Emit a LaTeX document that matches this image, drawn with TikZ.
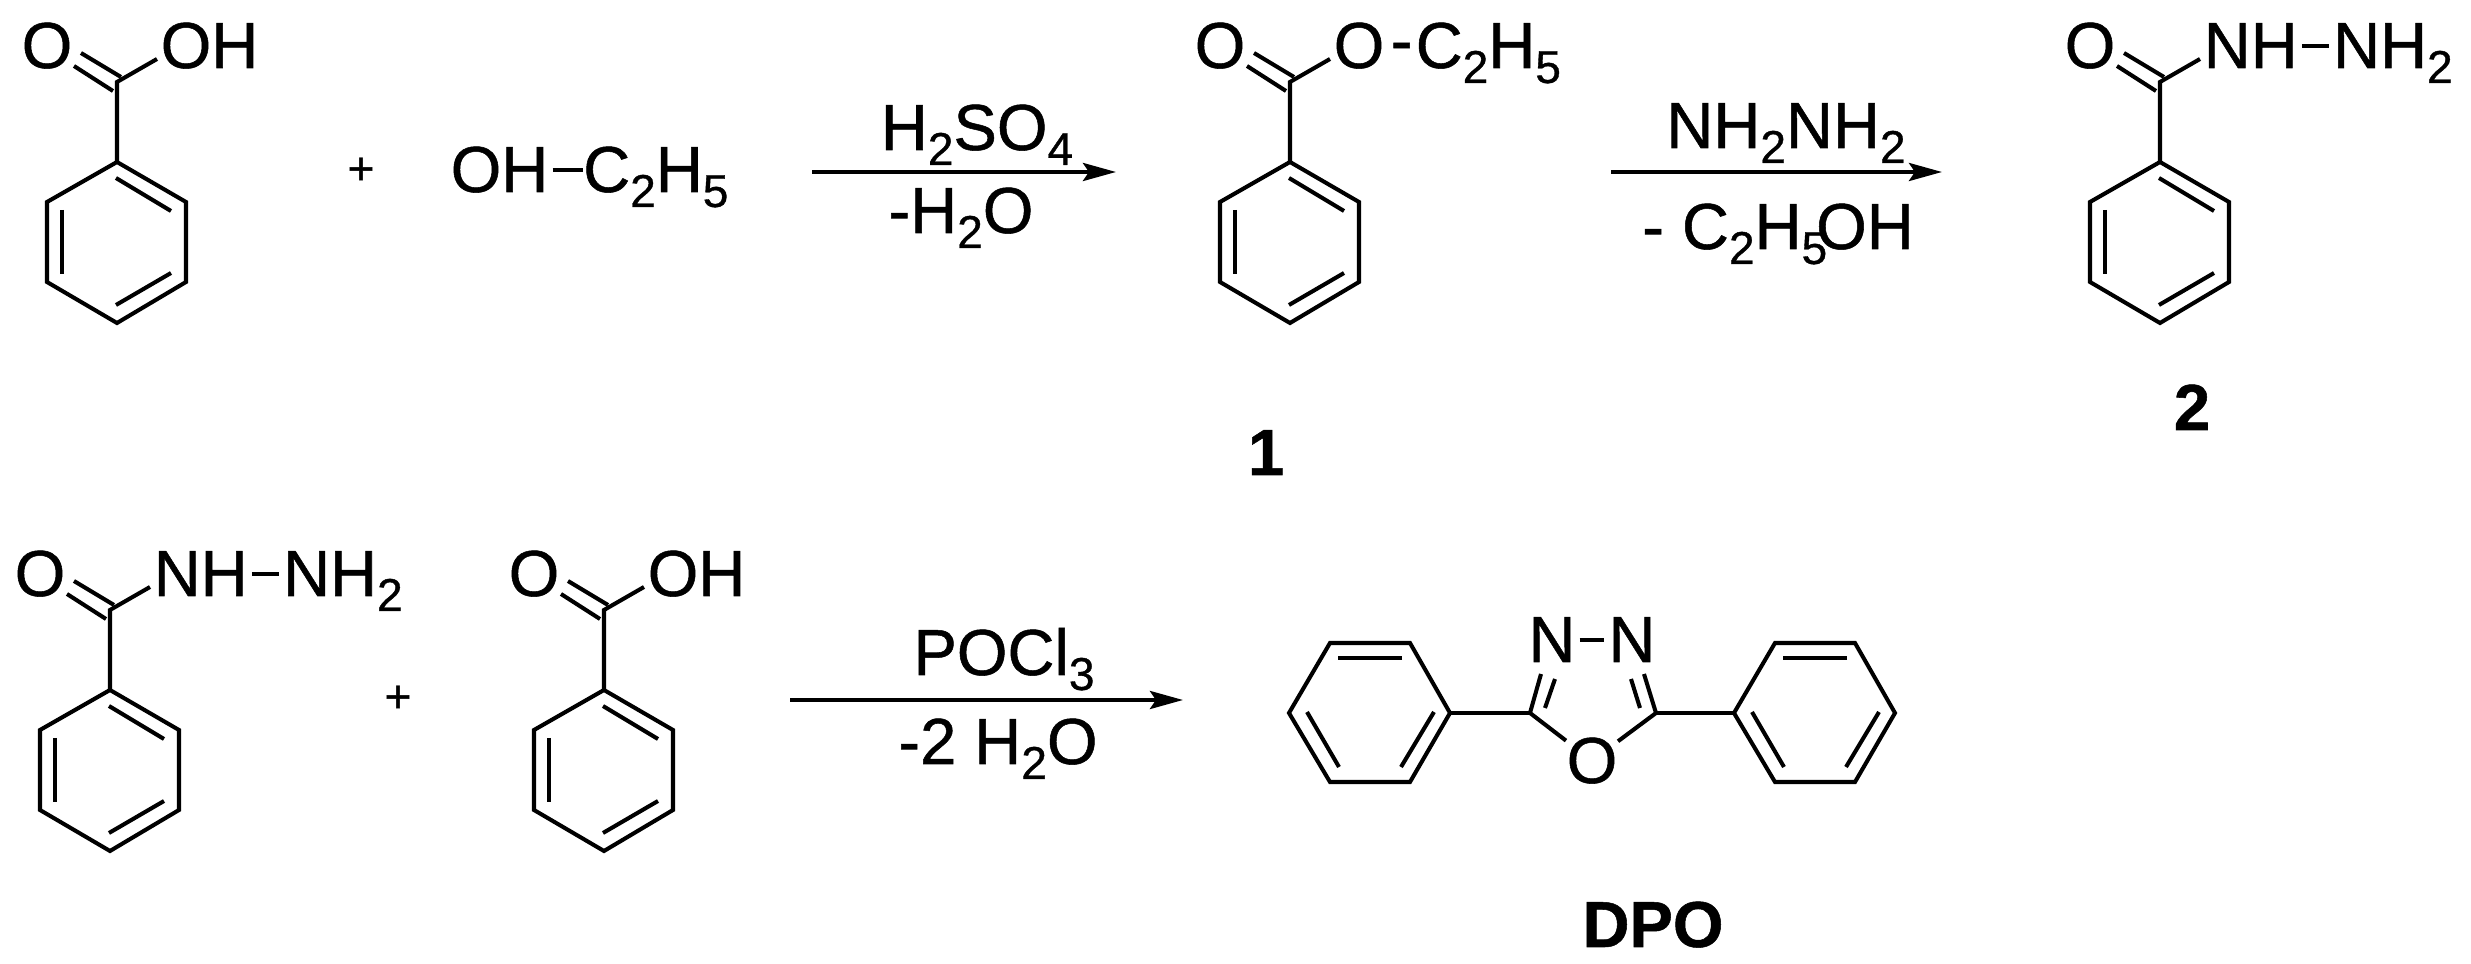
\documentclass[tikz,border=0pt]{standalone}
\usepackage{fontspec}
\setmainfont{Liberation Sans}[FakeBold=0.8]
\usetikzlibrary{arrows.meta, positioning}

\newcommand{\ssub}[1]{\raisebox{-0.23em}{\fontsize{13.1}{14}\selectfont #1}}

\tikzset{
	bond/.style={line width=1.15pt},
	rxn/.style={line width=1.15pt, -{Stealth[length=0.33cm, width=0.18cm, inset=0.06cm]}},
	chem/.style={font=\fontsize{18.5}{20}\selectfont, inner sep=0pt},
	tag/.style={font=\fontsize{18.5}{20}\selectfont\bfseries, inner sep=0pt, anchor=base},
	plus/.style={font=\fontsize{13.1}{14}\selectfont, inner sep=0pt},
	pics/phenyl/.style={code={
		\draw[bond] (0,0) -- (69,40) -- (69,120) -- (0,161) -- (-70,120) -- (-70,40) -- cycle;
		\draw[bond] (-1,16) -- (54,49);
		\draw[bond] (-55,48) -- (-55,112);
		\draw[bond] (-1,143) -- (54,111);
	}},
	pics/benzoyl/.style={code={
		\pic {phenyl};
		\coordinate (-c) at (0,-80);
		\coordinate (-tail) at (43,-94);
		\node[chem, anchor=base] (-o) at (-70,-94) {O};
		\draw[bond] (0,0) -- (-c) -- (40,-103);
		\draw[bond] (-4,-71) -- (-43,-96);
		\draw[bond] (4,-85) -- (-36,-109);
	}}
}

\begin{document}
\begin{tikzpicture}[x=0.01cm, y=-0.01cm]

	\useasboundingbox (0,0) rectangle (2471,964);

	\pic (a) at (117,162) {benzoyl};
	\node[chem, anchor=base west] (a-oh) at (a-tail) {OH};
	\node[plus] (plus1) at (361,171) {+};
	\node[chem, anchor=base west] (eth-oh) at (450,192) {OH};
	\node[chem, base right=0.335cm of eth-oh] (eth-r) {C\ssub{2}H\ssub{5}};
	\draw[bond, shorten <=1pt] (eth-oh.east) -- (eth-oh.east -| eth-r.west);

	\coordinate (r1s) at (812,172);
	\coordinate (r1e) at (1116,172);
	\draw[rxn] (r1s) -- (r1e);
	\node[chem, anchor=base] (r1top) at (977,150) {H\ssub{2}SO\ssub{4}};
	\node[chem, anchor=base] (r1low) at (961,233) {-H\ssub{2}O};

	\pic (b) at (1290,162) {benzoyl};
	\node[chem, anchor=base west] (b-r) at (b-tail) {O\kern0.1em\raisebox{0.08em}{-}\kern0.05em C\ssub{2}H\ssub{5}};
	\node[tag] (one) at (1266,475) {1};

	\coordinate (r2s) at (1611,172);
	\coordinate (r2e) at (1942,172);
	\draw[rxn] (r2s) -- (r2e);
	\node[chem, anchor=base] (r2top) at (1786,148) {NH\ssub{2}NH\ssub{2}};
	\node[chem, anchor=base] (r2low) at (1778,249) {- C\ssub{2}H\ssub{5}\kern-0.17em OH};

	\pic (c) at (2160,162) {benzoyl};
	\node[chem, anchor=base west] (c-nh) at (c-tail) {NH};
	\node[chem, base right=0.34cm of c-nh] (c-nh2) {NH\ssub{2}};
	\draw[bond, shorten <=1pt, shorten >=1pt] (c-nh.east) -- (c-nh.east -| c-nh2.west);
	\node[tag] (two) at (2192,430) {2};

	\pic (d) at (110,690) {benzoyl};
	\node[chem, anchor=base west] (d-nh) at (d-tail) {NH};
	\node[chem, base right=0.34cm of d-nh] (d-nh2) {NH\ssub{2}};
	\draw[bond, shorten <=1pt, shorten >=1pt] (d-nh.east) -- (d-nh.east -| d-nh2.west);
	\node[plus] (plus2) at (398,699) {+};

	\pic (e) at (604,690) {benzoyl};
	\node[chem, anchor=base west] (e-oh) at (e-tail) {OH};

	\coordinate (r3s) at (790,700);
	\coordinate (r3e) at (1183,700);
	\draw[rxn] (r3s) -- (r3e);
	\node[chem, anchor=base] (r3top) at (1004,675) {POCl\ssub{3}};
	\node[chem, anchor=base] (r3low) at (998,764) {-2 H\ssub{2}O};

	\pic[rotate=-90] at (1450,713) {phenyl};
	\pic[rotate=-90] at (1895,713) {phenyl};
	\coordinate (pl) at (1449,713);
	\coordinate (pr) at (1735,713);
	\coordinate (c1) at (1530,713);
	\coordinate (c2) at (1656,713);
	\node[chem, anchor=base] (n1) at (1552,662) {N};
	\node[chem, anchor=base] (n2) at (1632,662) {N};
	\node[chem, anchor=base] (ox) at (1592,783) {O};
	\draw[bond] (pl) -- (c1);
	\draw[bond] (c2) -- (pr);
	\draw[bond] (c1) -- (ox);
	\draw[bond] (c2) -- (ox);
	\draw[bond, shorten <=1pt, shorten >=1pt] (n1) -- (n2);
	\draw[bond] (c1) -- ++(11,-39);
	\draw[bond] (c2) -- ++(-12,-39);
	\draw[bond] (1545,708) -- (1555,679);
	\draw[bond] (1640,708) -- (1631,679);
	\node[tag] (dpo) at (1653,947) {DPO};

\end{tikzpicture}
\end{document}
